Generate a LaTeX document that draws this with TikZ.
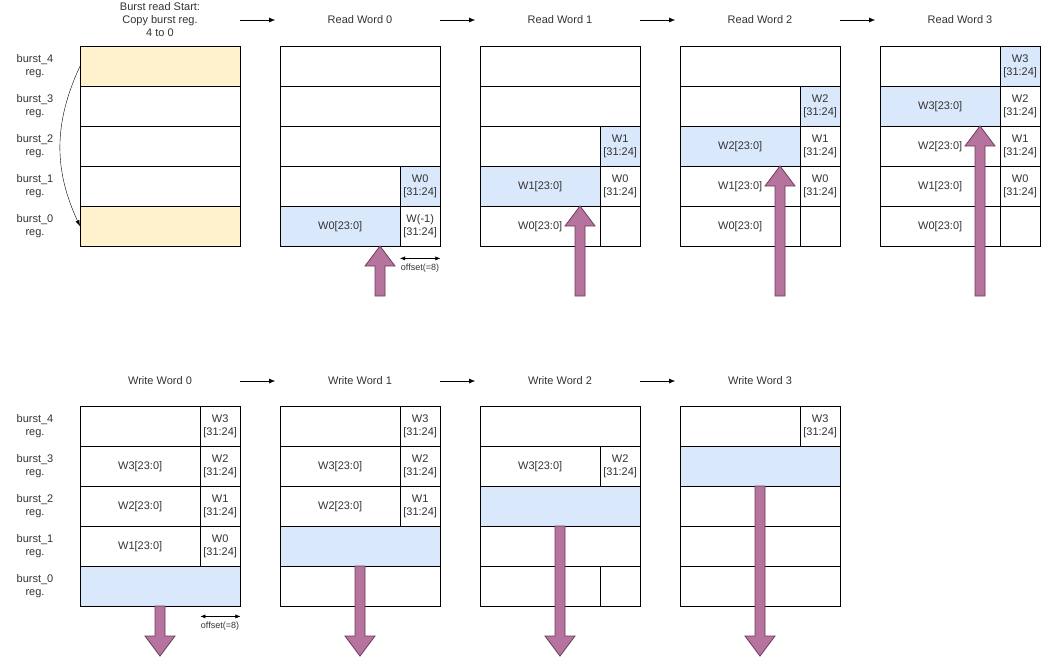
\documentclass[tikz,border=0pt]{standalone}
\usepackage{fontspec}
\setmainfont{Liberation Sans}
\usetikzlibrary{arrows.meta}
\definecolor{regblue}{HTML}{DAE8FC}
\definecolor{regyellow}{HTML}{FFF2CC}
\definecolor{fatfill}{HTML}{B5739D}
\definecolor{fatdraw}{HTML}{6E3B5C}
\definecolor{txt}{HTML}{333333}
% fat arrows: x, tip y, tail y
\newcommand{\fatup}[3]{\filldraw[fat] ({#1-5},#3) -- ({#1-5},{#2+20}) -- ({#1-15},{#2+20}) -- (#1,#2) -- ({#1+15},{#2+20}) -- ({#1+5},{#2+20}) -- ({#1+5},#3) -- cycle;}
\newcommand{\fatdown}[3]{\filldraw[fat] ({#1-5},#3) -- ({#1-5},{#2-20}) -- ({#1-15},{#2-20}) -- (#1,#2) -- ({#1+15},{#2-20}) -- ({#1+5},{#2-20}) -- ({#1+5},#3) -- cycle;}
\newcommand{\hw}[1]{#1\\{}[31:24]}
\begin{document}
\begin{tikzpicture}[x=1pt, y=-1pt,
    font=\fontsize{11}{13}\selectfont, text=txt]
\tikzset{
  cell/.style={draw, anchor=north west, minimum height=40pt, inner sep=0pt, align=center, text=txt},
  full/.style={cell, minimum width=160pt},
  lo/.style={cell, minimum width=120pt},
  hi/.style={cell, minimum width=40pt},
  next/.style={-{Latex[length=6pt,width=5pt]}, thin},
  fat/.style={fill=fatfill, draw=fatdraw, line width=0.8pt},
  lbl/.style={align=center, inner sep=0pt}
}
\useasboundingbox (0,0) rectangle (1041,657);

% --- titles
\node[lbl] (t0) at (160,20) {Burst read Start:\\Copy burst reg.\\4 to 0};
\node[lbl] (t1) at (360,20) {Read Word 0};
\node[lbl] (t2) at (560,20) {Read Word 1};
\node[lbl] (t3) at (760,20) {Read Word 2};
\node[lbl] (t4) at (960,20) {Read Word 3};
\node[lbl] (b1) at (160,381) {Write Word 0};
\node[lbl] (b2) at (360,381) {Write Word 1};
\node[lbl] (b3) at (560,381) {Write Word 2};
\node[lbl] (b4) at (760,381) {Write Word 3};
\coordinate (s1a) at (240,20); \coordinate (s1b) at (275,20);
\coordinate (s2a) at (440,20); \coordinate (s2b) at (475,20);
\coordinate (s3a) at (640,20); \coordinate (s3b) at (675,20);
\coordinate (s4a) at (840,20); \coordinate (s4b) at (875,20);
\coordinate (w1a) at (240,381); \coordinate (w1b) at (275,381);
\coordinate (w2a) at (440,381); \coordinate (w2b) at (475,381);
\coordinate (w3a) at (640,381); \coordinate (w3b) at (675,381);
\foreach \s in {s1,s2,s3,s4,w1,w2,w3} \draw[next] (\s a) -- (\s b);

% --- register names
\foreach \i/\n in {4/0,3/1,2/2,1/3,0/4} {
  \node[lbl] (ra\i) at (35,{66+40*\n}) {burst\_\i\\reg.};
  \node[lbl] (wa\i) at (35,{426+40*\n}) {burst\_\i\\reg.};
}

% --- burst read start
\node[full, fill=regyellow] (c4) at (80,46) {};
\node[full] (c3) at (80,86) {};
\node[full] (c2) at (80,126) {};
\node[full] (c1) at (80,166) {};
\node[full, fill=regyellow] (c0) at (80,206) {};
\draw[-{Latex[length=6pt,width=4pt]}] (c4.west) to[bend right=25] (c0.west);

% --- read word 0
\node[full] (r0e4) at (280,46) {};
\node[full] (r0e3) at (280,86) {};
\node[full] (r0e2) at (280,126) {};
\node[lo] (r0l1) at (280,166) {};
\node[hi, fill=regblue] (r0h1) at (400,166) {\hw{W0}};
\node[lo, fill=regblue] (r0l0) at (280,206) {W0[23:0]};
\node[hi] (r0h0) at (400,206) {\hw{W(-1)}};
\draw[{Latex[length=5pt,width=4pt]}-{Latex[length=5pt,width=4pt]}] ([yshift=-12pt]r0h0.south west) coordinate (o1) -- ([yshift=-12pt]r0h0.south east) coordinate (o2);
\node[lbl, font=\fontsize{9}{10}\selectfont] (off1) at (420,268) {offset(=8)};
\fatup{380}{246}{296}

% --- read word 1
\node[full] (r1e4) at (480,46) {};
\node[full] (r1e3) at (480,86) {};
\node[lo] (r1l2) at (480,126) {};
\node[hi, fill=regblue] (r1h2) at (600,126) {\hw{W1}};
\node[lo, fill=regblue] (r1l1) at (480,166) {W1[23:0]};
\node[hi] (r1h1) at (600,166) {\hw{W0}};
\node[lo] (r1l0) at (480,206) {W0[23:0]};
\node[hi] (r1h0) at (600,206) {};
\fatup{580}{206}{296}

% --- read word 2
\node[full] (r2e4) at (680,46) {};
\node[lo] (r2l3) at (680,86) {};
\node[hi, fill=regblue] (r2h3) at (800,86) {\hw{W2}};
\node[lo, fill=regblue] (r2l2) at (680,126) {W2[23:0]};
\node[hi] (r2h2) at (800,126) {\hw{W1}};
\node[lo] (r2l1) at (680,166) {W1[23:0]};
\node[hi] (r2h1) at (800,166) {\hw{W0}};
\node[lo] (r2l0) at (680,206) {W0[23:0]};
\node[hi] (r2h0) at (800,206) {};
\fatup{780}{166}{296}

% --- read word 3
\node[lo] (r3l4) at (880,46) {};
\node[hi, fill=regblue] (r3h4) at (1000,46) {\hw{W3}};
\node[lo, fill=regblue] (r3l3) at (880,86) {W3[23:0]};
\node[hi] (r3h3) at (1000,86) {\hw{W2}};
\node[lo] (r3l2) at (880,126) {W2[23:0]};
\node[hi] (r3h2) at (1000,126) {\hw{W1}};
\node[lo] (r3l1) at (880,166) {W1[23:0]};
\node[hi] (r3h1) at (1000,166) {\hw{W0}};
\node[lo] (r3l0) at (880,206) {W0[23:0]};
\node[hi] (r3h0) at (1000,206) {};
\fatup{980}{126}{296}

% --- write word 0
\node[lo] (w0l4) at (80,406) {};
\node[hi] (w0h4) at (200,406) {\hw{W3}};
\node[lo] (w0l3) at (80,446) {W3[23:0]};
\node[hi] (w0h3) at (200,446) {\hw{W2}};
\node[lo] (w0l2) at (80,486) {W2[23:0]};
\node[hi] (w0h2) at (200,486) {\hw{W1}};
\node[lo] (w0l1) at (80,526) {W1[23:0]};
\node[hi] (w0h1) at (200,526) {\hw{W0}};
\node[full, fill=regblue] (w0e0) at (80,566) {};
\draw[{Latex[length=5pt,width=4pt]}-{Latex[length=5pt,width=4pt]}] ([yshift=-10pt]w0e0.south east) ++(-40,0) coordinate (o3) -- ([yshift=-10pt]w0e0.south east) coordinate (o4);
\node[lbl, font=\fontsize{9}{10}\selectfont] (off2) at (220,626) {offset(=8)};
\fatdown{160}{656}{606}

% --- write word 1
\node[lo] (w1l4) at (280,406) {};
\node[hi] (w1h4) at (400,406) {\hw{W3}};
\node[lo] (w1l3) at (280,446) {W3[23:0]};
\node[hi] (w1h3) at (400,446) {\hw{W2}};
\node[lo] (w1l2) at (280,486) {W2[23:0]};
\node[hi] (w1h2) at (400,486) {\hw{W1}};
\node[full, fill=regblue] (w1e1) at (280,526) {};
\node[full] (w1e0) at (280,566) {};
\fatdown{360}{656}{566}

% --- write word 2
\node[full] (w2e4) at (480,406) {};
\node[lo] (w2l3) at (480,446) {W3[23:0]};
\node[hi] (w2h3) at (600,446) {\hw{W2}};
\node[full, fill=regblue] (w2e2) at (480,486) {};
\node[full] (w2e1) at (480,526) {};
\node[lo] (w2l0) at (480,566) {};
\node[hi] (w2h0) at (600,566) {};
\fatdown{560}{656}{526}

% --- write word 3
\node[lo] (w3l4) at (680,406) {};
\node[hi] (w3h4) at (800,406) {\hw{W3}};
\node[full, fill=regblue] (w3e3) at (680,446) {};
\node[full] (w3e2) at (680,486) {};
\node[full] (w3e1) at (680,526) {};
\node[full] (w3e0) at (680,566) {};
\fatdown{760}{656}{486}
\end{tikzpicture}
\end{document}
